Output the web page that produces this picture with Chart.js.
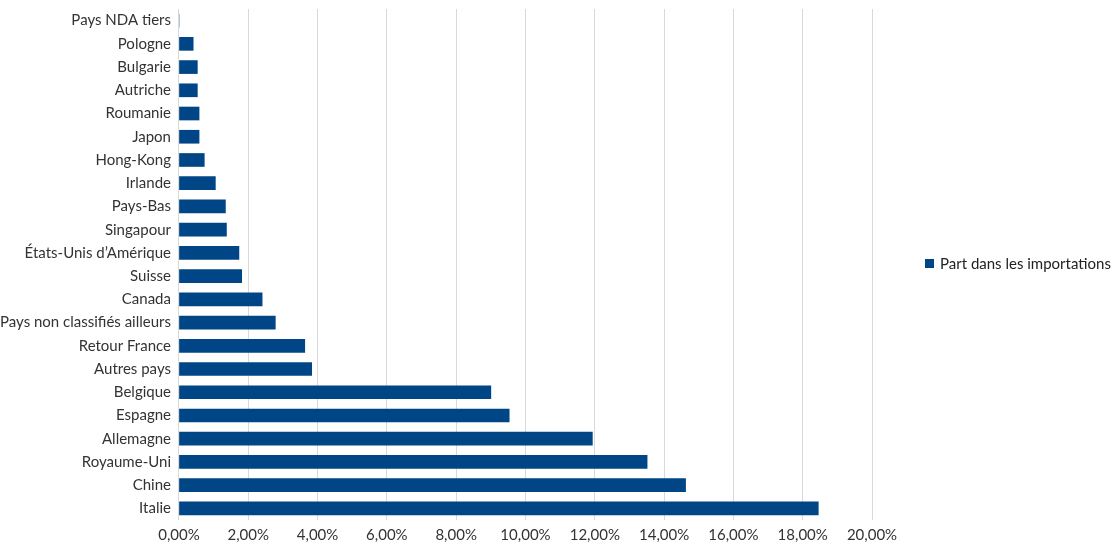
<!DOCTYPE html>
<html><head><meta charset="utf-8">
<script src="https://cdn.jsdelivr.net/npm/chart.js@4/dist/chart.umd.min.js"></script>
<style>
html,body{margin:0;padding:0;background:#fff;}
#wrap{position:relative;width:1118px;height:550px;}
#leg{position:absolute;left:925px;top:254px;font:15px Lato, "Open Sans", sans-serif;color:#222;display:flex;align-items:center;white-space:nowrap;}
#leg span.b{display:inline-block;width:9px;height:9px;background:#004687;margin-right:6px;}
</style></head>
<body><div id="wrap"><canvas id="c" width="1118" height="550"></canvas>
<div id="leg"><span class="b"></span><span id="legText"></span></div></div>
<script>
const categories = ["Pays NDA tiers","Pologne","Bulgarie","Autriche","Roumanie","Japon","Hong-Kong","Irlande","Pays-Bas","Singapour","États-Unis d’Amérique","Suisse","Canada","Pays non classifiés ailleurs","Retour France","Autres pays","Belgique","Espagne","Allemagne","Royaume-Uni","Chine","Italie"];
const seriesName = "Part dans les importations";
const shares = [0.0,0.41,0.53,0.53,0.58,0.58,0.73,1.05,1.34,1.37,1.73,1.81,2.40,2.78,3.63,3.83,9.00,9.53,11.93,13.51,14.62,18.45];
const xTicks = [0,2,4,6,8,10,12,14,16,18,20];

document.getElementById('legText').textContent = seriesName;
const font = {family:'Lato, "Open Sans", sans-serif', size:15};
new Chart(document.getElementById('c'), {
  type:'bar',
  data:{labels:categories, datasets:[{label:seriesName, data:shares, backgroundColor:'#004687', barThickness:13}]},
  options:{
    indexAxis:'y', responsive:false, animation:false,
    layout:{padding:{top:-17,right:246,bottom:0,left:0}},
    plugins:{legend:{display:false}, tooltip:{enabled:false}},
    scales:{
      x:{min:0,max:20,
        afterBuildTicks:s=>{s.ticks=xTicks.map(v=>({value:v}));},
        ticks:{font, color:'#333', padding:6, callback:v=>v.toFixed(2).replace('.',',')+'%'},
        grid:{color:'#d9d9d9', drawTicks:false}, border:{display:false}},
      y:{ticks:{font, color:'#333', padding:0}, grid:{display:false}, border:{display:false}}
    }
  }
});
</script></body></html>
